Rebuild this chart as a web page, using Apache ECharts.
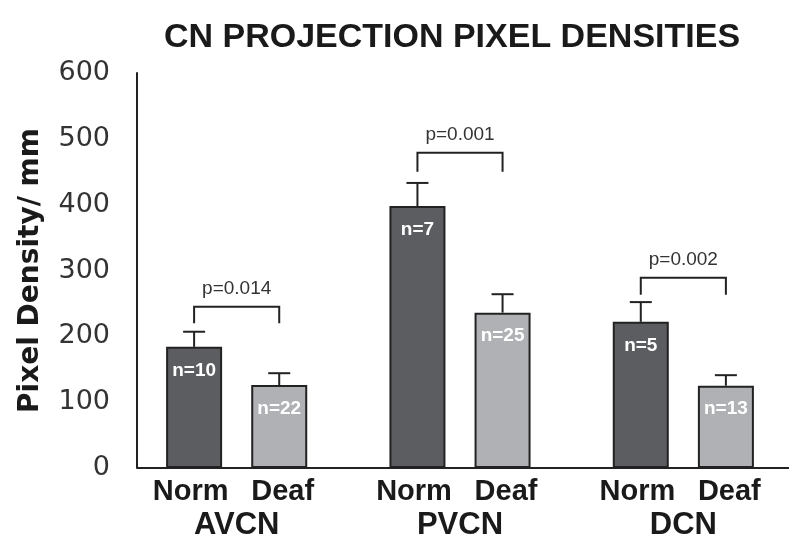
<!DOCTYPE html>
<html>
<head>
<meta charset="utf-8">
<script src="https://cdn.jsdelivr.net/npm/echarts@6/dist/echarts.min.js"></script>
<style>
html,body{margin:0;padding:0;background:#fff;}
#chart{width:800px;height:556px;}
</style>
</head>
<body>
<div id="chart"></div>
<script>
// ---- data ----
const groups = ['AVCN', 'PVCN', 'DCN'];
const seriesNames = ['Norm', 'Deaf'];
const normValues = [184, 398, 222];
const deafValues = [126, 236, 125];
const normErrTop = [207, 433, 252];
const deafErrTop = [144, 264, 141];
const normN = ['n=10', 'n=7', 'n=5'];
const deafN = ['n=22', 'n=25', 'n=13'];
const pLabels = ['p=0.014', 'p=0.001', 'p=0.002'];
const bracketTop = [245, 479, 289];
const bracketLegEnd = [220, 450, 263];
const yTicks = [0, 100, 200, 300, 400, 500, 600];
const titleText = 'CN PROJECTION PIXEL DENSITIES';
const yName = 'Pixel Density/ mm';

// ---- layout/style ----
const BAR_W = 56;
const BAR_GAP = 0.52;
const HALF_SHIFT = (BAR_W + BAR_W * BAR_GAP) / 2;
const GRID_LEFT = 125, GRID_RIGHT = 5, GRID_TOP = 73, GRID_BOTTOM = 88;
const Y_OFFSET = -12;
const INK = '#222';

const chart = echarts.init(document.getElementById('chart'), null, {renderer: 'canvas'});

function errRender(shift) {
  return function (params, api) {
    const i = api.value(0);
    const base = api.coord([i, api.value(1)]);
    const top = api.coord([i, api.value(2)]);
    const x = base[0] + shift;
    return {
      type: 'group',
      children: [
        {type: 'line', shape: {x1: x, y1: base[1], x2: x, y2: top[1]}, style: {stroke: INK, lineWidth: 2}},
        {type: 'line', shape: {x1: x - 11, y1: top[1], x2: x + 11, y2: top[1]}, style: {stroke: INK, lineWidth: 2}}
      ]
    };
  };
}

const labelFont = {fontFamily: 'Liberation Sans', fontWeight: 'bold', fontSize: 29, color: '#1a1a1a', lineHeight: 33};

const option = {
  animation: false,
  backgroundColor: '#fff',
  title: {
    text: titleText,
    left: 447,
    textAlign: 'center',
    top: 16,
    textStyle: {fontFamily: 'Liberation Sans', fontWeight: 'bold', fontSize: 34, color: '#1a1a1a'}
  },
  grid: {left: GRID_LEFT, right: GRID_RIGHT, top: GRID_TOP, bottom: GRID_BOTTOM},
  xAxis: {
    type: 'category',
    data: groups,
    axisLine: {show: false},
    axisTick: {show: false},
    axisLabel: {
      margin: 7,
      interval: 0,
      formatter: function (v) {
        return '{a|' + seriesNames[0] + '}{b|' + seriesNames[1] + '}\n{c|' + v + '}';
      },
      rich: {
        a: Object.assign({width: 92, align: 'center'}, labelFont),
        b: Object.assign({width: 92, align: 'center'}, labelFont),
        c: {fontFamily: 'Liberation Sans', fontWeight: 'bold', fontSize: 31, color: '#1a1a1a', lineHeight: 34}
      }
    }
  },
  yAxis: {
    type: 'value',
    min: yTicks[0],
    max: yTicks[yTicks.length - 1],
    interval: yTicks[1] - yTicks[0],
    offset: Y_OFFSET,
    name: yName,
    nameLocation: 'middle',
    nameRotate: 90,
    nameGap: 92,
    nameTextStyle: {fontFamily: 'DejaVu Sans', fontWeight: 'bold', fontSize: 28, color: '#1a1a1a'},
    axisLine: {show: true, lineStyle: {color: INK, width: 2}},
    axisTick: {show: false},
    splitLine: {show: false},
    axisLabel: {margin: 27, fontFamily: 'DejaVu Sans', fontSize: 27, color: '#333'}
  },
  series: [
    {
      name: seriesNames[0],
      type: 'bar',
      data: normValues,
      barWidth: BAR_W,
      barGap: (BAR_GAP * 100) + '%',
      itemStyle: {color: '#5c5d61', borderColor: INK, borderWidth: 2},
      label: {
        show: true, position: 'insideTop', distance: 14,
        formatter: p => normN[p.dataIndex],
        color: '#fff', fontFamily: 'Liberation Sans', fontWeight: 'bold', fontSize: 19
      },
      z: 3
    },
    {
      name: seriesNames[1],
      type: 'bar',
      data: deafValues,
      barWidth: BAR_W,
      barGap: (BAR_GAP * 100) + '%',
      itemStyle: {color: '#b0b1b5', borderColor: INK, borderWidth: 2},
      label: {
        show: true, position: 'insideTop', distance: 14,
        formatter: p => deafN[p.dataIndex],
        color: '#fff', fontFamily: 'Liberation Sans', fontWeight: 'bold', fontSize: 19
      },
      z: 3
    },
    {
      type: 'custom',
      renderItem: errRender(-HALF_SHIFT),
      data: normValues.map((v, i) => [i, v, normErrTop[i]]),
      z: 2
    },
    {
      type: 'custom',
      renderItem: errRender(HALF_SHIFT),
      data: deafValues.map((v, i) => [i, v, deafErrTop[i]]),
      z: 2
    },
    {
      type: 'custom',
      data: bracketTop.map((v, i) => [i, v, bracketLegEnd[i]]),
      renderItem: function (params, api) {
        const i = api.value(0);
        const top = api.coord([i, api.value(1)]);
        const leg = api.coord([i, api.value(2)]);
        const xl = top[0] - HALF_SHIFT, xr = top[0] + HALF_SHIFT;
        return {
          type: 'group',
          children: [
            {type: 'polyline', shape: {points: [[xl, leg[1]], [xl, top[1]], [xr, top[1]], [xr, leg[1]]]},
             style: {stroke: INK, lineWidth: 2, fill: null}},
            {type: 'text', x: top[0], y: top[1] - 18,
             style: {text: pLabels[params.dataIndex], align: 'center', verticalAlign: 'middle',
                     fontFamily: 'Liberation Sans', fontSize: 19, fill: '#333'}}
          ]
        };
      },
      z: 4
    }
  ]
};

chart.setOption(option);

// x axis baseline drawn from the y axis position to near the right edge
const y0 = chart.convertToPixel({yAxisIndex: 0}, 0);
const axisX = GRID_LEFT - Y_OFFSET;
chart.setOption({
  graphic: [{
    type: 'line',
    shape: {x1: axisX, y1: y0, x2: 789, y2: y0},
    style: {stroke: INK, lineWidth: 2},
    z: 10
  }]
});
</script>
</body>
</html>
